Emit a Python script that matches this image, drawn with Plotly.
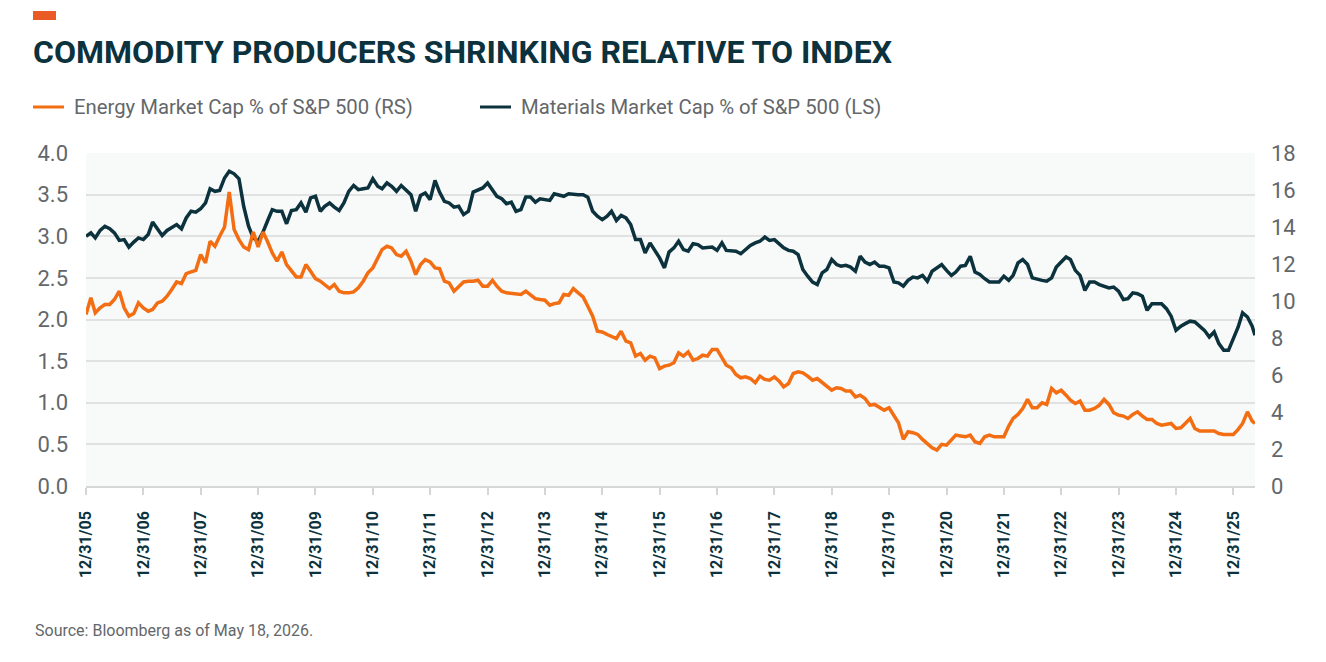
import pandas as pd
import plotly.graph_objects as go

# ---------------- data ----------------
# month-end observations from 12/31/2005, last point 5/18/2026
dates = list(pd.date_range("2005-12-31", "2026-04-30", freq="ME").strftime("%Y-%m-%d")) + ["2026-05-18"]

energy_pct = [  # Energy market cap % of S&P 500 (right scale)
    9.27, 10.17, 9.36, 9.63, 9.81, 9.81, 10.08, 10.53, 9.63, 9.18, 9.32, 9.90,
    9.63, 9.45, 9.54, 9.90, 9.99, 10.26, 10.62, 11.03, 10.94, 11.48, 11.57, 11.66,
    12.51, 12.06, 13.23, 12.96, 13.50, 14.00, 15.89, 13.86, 13.32, 12.92, 12.78, 13.73,
    12.92, 13.73, 13.23, 12.60, 12.15, 12.65, 11.97, 11.61, 11.30, 11.30, 11.97, 11.61,
    11.21, 11.07, 10.89, 10.67, 10.89, 10.53, 10.44, 10.44, 10.49, 10.71, 11.07, 11.52,
    11.79, 12.33, 12.78, 12.96, 12.87, 12.51, 12.42, 12.69, 12.15, 11.43, 11.97, 12.24,
    12.11, 11.79, 11.75, 11.07, 10.98, 10.53, 10.80, 11.03, 11.07, 11.07, 11.12, 10.80,
    10.80, 11.12, 10.80, 10.53, 10.44, 10.40, 10.35, 10.35, 10.53, 10.31, 10.13, 10.08,
    10.04, 9.77, 9.86, 9.90, 10.35, 10.31, 10.67, 10.44, 10.22, 9.72, 9.18, 8.37,
    8.33, 8.19, 8.06, 7.97, 8.37, 7.83, 7.74, 7.02, 7.16, 6.80, 7.02, 6.93,
    6.35, 6.48, 6.53, 6.66, 7.20, 7.02, 7.25, 6.80, 6.89, 7.07, 7.02, 7.38,
    7.38, 6.93, 6.53, 6.39, 6.03, 5.85, 5.90, 5.81, 5.58, 5.94, 5.76, 5.72,
    5.90, 5.67, 5.36, 5.54, 6.08, 6.17, 6.12, 5.94, 5.72, 5.81, 5.58, 5.36,
    5.18, 5.31, 5.27, 5.13, 5.13, 4.82, 4.91, 4.73, 4.37, 4.41, 4.23, 4.10,
    4.23, 3.78, 3.42, 2.52, 2.93, 2.88, 2.79, 2.52, 2.30, 2.07, 1.94, 2.25,
    2.21, 2.52, 2.75, 2.70, 2.66, 2.75, 2.39, 2.30, 2.66, 2.75, 2.66, 2.66,
    2.66, 3.24, 3.65, 3.87, 4.19, 4.68, 4.23, 4.23, 4.50, 4.41, 5.27, 5.04,
    5.18, 4.91, 4.64, 4.46, 4.59, 4.10, 4.10, 4.19, 4.37, 4.68, 4.41, 3.96,
    3.83, 3.78, 3.65, 3.87, 4.01, 3.78, 3.60, 3.60, 3.38, 3.29, 3.33, 3.38,
    3.11, 3.15, 3.38, 3.65, 3.11, 2.97, 2.97, 2.97, 2.97, 2.84, 2.79, 2.79,
    2.79, 3.06, 3.38, 4.01, 3.51, 3.38,
]

materials_pct = [  # Materials market cap % of S&P 500 (left scale)
    3.00, 3.04, 2.98, 3.07, 3.12, 3.09, 3.04, 2.95, 2.96, 2.87, 2.93, 2.98,
    2.96, 3.02, 3.17, 3.08, 3.01, 3.07, 3.10, 3.14, 3.09, 3.22, 3.30, 3.29,
    3.33, 3.40, 3.57, 3.54, 3.55, 3.70, 3.78, 3.75, 3.69, 3.36, 3.12, 2.98,
    2.94, 3.05, 3.18, 3.32, 3.30, 3.30, 3.15, 3.31, 3.32, 3.40, 3.29, 3.46,
    3.48, 3.30, 3.36, 3.40, 3.35, 3.31, 3.40, 3.54, 3.61, 3.56, 3.57, 3.58,
    3.69, 3.60, 3.57, 3.64, 3.60, 3.54, 3.61, 3.55, 3.50, 3.30, 3.49, 3.52,
    3.44, 3.67, 3.53, 3.42, 3.40, 3.35, 3.36, 3.26, 3.30, 3.53, 3.55, 3.58,
    3.64, 3.56, 3.48, 3.45, 3.39, 3.41, 3.30, 3.32, 3.47, 3.47, 3.41, 3.45,
    3.44, 3.43, 3.51, 3.49, 3.48, 3.51, 3.50, 3.50, 3.50, 3.47, 3.30, 3.24,
    3.20, 3.24, 3.30, 3.19, 3.25, 3.22, 3.14, 2.96, 2.96, 2.80, 2.92, 2.84,
    2.74, 2.62, 2.81, 2.86, 2.94, 2.84, 2.82, 2.91, 2.90, 2.86, 2.86, 2.87,
    2.83, 2.92, 2.83, 2.83, 2.82, 2.79, 2.84, 2.89, 2.92, 2.94, 2.99, 2.95,
    2.96, 2.91, 2.86, 2.83, 2.82, 2.78, 2.60, 2.52, 2.45, 2.42, 2.56, 2.60,
    2.72, 2.66, 2.64, 2.65, 2.63, 2.58, 2.76, 2.69, 2.66, 2.69, 2.64, 2.64,
    2.62, 2.45, 2.44, 2.40, 2.47, 2.51, 2.50, 2.53, 2.46, 2.58, 2.62, 2.66,
    2.59, 2.53, 2.57, 2.64, 2.65, 2.76, 2.57, 2.54, 2.49, 2.45, 2.45, 2.45,
    2.52, 2.47, 2.53, 2.68, 2.72, 2.66, 2.50, 2.48, 2.47, 2.46, 2.50, 2.63,
    2.69, 2.75, 2.72, 2.59, 2.53, 2.35, 2.45, 2.45, 2.42, 2.40, 2.38, 2.39,
    2.34, 2.24, 2.25, 2.32, 2.31, 2.28, 2.11, 2.19, 2.19, 2.19, 2.13, 2.04,
    1.87, 1.92, 1.95, 1.98, 1.97, 1.92, 1.87, 1.79, 1.85, 1.71, 1.63, 1.63,
    1.76, 1.91, 2.08, 2.03, 1.92, 1.81,
]

tick_dates = [f"{y}-12-31" for y in range(2005, 2026)]
tick_labels = [f"12/31/{str(y)[2:]}" for y in range(2005, 2026)]

energy_name = "Energy Market Cap % of S&P 500 (RS)"
materials_name = "Materials Market Cap % of S&P 500 (LS)"
title_text = "COMMODITY PRODUCERS SHRINKING RELATIVE TO INDEX"
source_text = "Source: Bloomberg as of May 18, 2026."

# ---------------- style ----------------
ORANGE = "#f36d12"
DARK = "#0b323d"
GRAY_TXT = "#63676a"
W, H = 1326, 662
L, R, T, B = 86, 71, 153, 176
PW, PH = W - L - R, H - T - B

def px(x):
    return (x - L) / PW

def py(y):
    return (H - B - y) / PH

fig = go.Figure()
fig.add_trace(go.Scatter(x=dates, y=materials_pct, name=materials_name, mode="lines",
                         line=dict(color=DARK, width=3.5), yaxis="y"))
fig.add_trace(go.Scatter(x=dates, y=energy_pct, name=energy_name, mode="lines",
                         line=dict(color=ORANGE, width=3.5), yaxis="y2"))

font_family = "Roboto, 'Open Sans', sans-serif"

fig.update_layout(
    width=W, height=H,
    margin=dict(l=L, r=R, t=T, b=B),
    paper_bgcolor="white",
    plot_bgcolor="#f8f9f9",
    showlegend=False,
    font=dict(family=font_family, color=GRAY_TXT),
    title=dict(text=f"<b>{title_text}</b>", x=33 / W, xanchor="left",
               y=1 - 52 / H, yanchor="middle",
               font=dict(size=32, color=DARK, family=font_family)),
    xaxis=dict(type="date", range=["2005-12-31", "2026-05-18"],
               tickvals=tick_dates, ticktext=tick_labels, tickangle=-90,
               tickfont=dict(size=16, color=DARK, family="Roboto", weight="bold"),
               ticks="outside", ticklen=7, tickcolor="#d6d6d6", tickwidth=1.5,
               ticklabelstandoff=10,
               showline=True, linecolor="#d6d6d6", linewidth=1.5,
               showgrid=False, zeroline=False),
    yaxis=dict(range=[0, 4], dtick=0.5, tickformat=".1f",
               tickfont=dict(size=22, color=GRAY_TXT),
               gridcolor="#e1e1e1", gridwidth=1.5, zeroline=False,
               ticks="", ticklabelstandoff=17),
    yaxis2=dict(range=[0, 18], dtick=2, overlaying="y", side="right",
                tickfont=dict(size=22, color=GRAY_TXT),
                showgrid=False, zeroline=False, ticks="", ticklabelstandoff=15),
)

# orange accent bar
fig.add_shape(type="rect", xref="paper", yref="paper",
              x0=px(33), x1=px(56), y0=py(20), y1=py(11),
              fillcolor="#ea5a24", line=dict(width=0))

# legend (drawn)
for x0, color, text in [(33, ORANGE, energy_name), (480, DARK, materials_name)]:
    fig.add_shape(type="line", xref="paper", yref="paper",
                  x0=px(x0), x1=px(x0 + 31), y0=py(107), y1=py(107),
                  line=dict(color=color, width=3))
    fig.add_annotation(text=text, xref="paper", yref="paper",
                       x=px(x0 + 39), y=py(107), xanchor="left", yanchor="middle",
                       showarrow=False, font=dict(size=20.3, color=GRAY_TXT))

fig.add_annotation(text=source_text, xref="paper", yref="paper",
                   x=px(33), y=py(630), xanchor="left", yanchor="middle",
                   showarrow=False, font=dict(size=16, color=GRAY_TXT))

fig.write_html("out.html")
